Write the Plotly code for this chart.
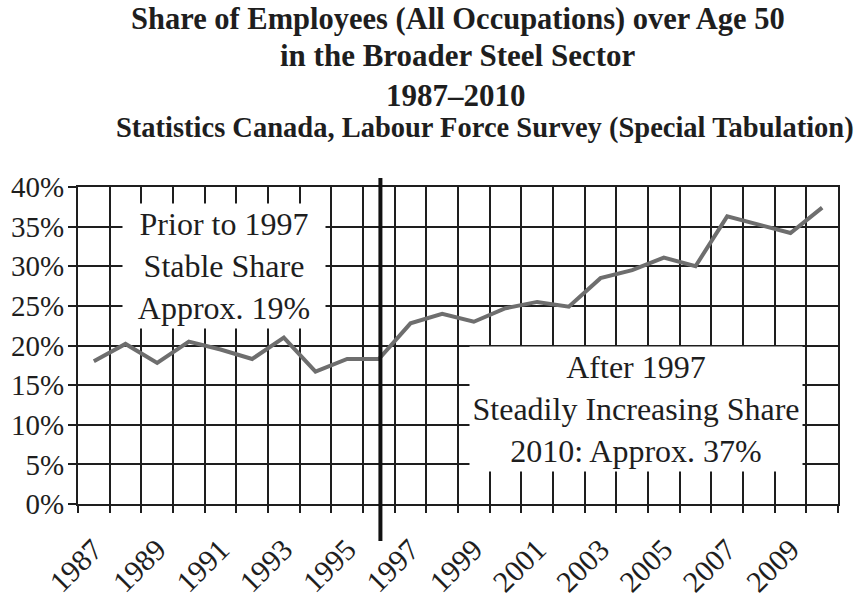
import plotly.graph_objects as go

years = list(range(1987, 2011))
share = [18.0, 20.2, 17.8, 20.5, 19.5, 18.3, 21.0, 16.7, 18.3, 18.3,
         22.8, 24.0, 23.0, 24.7, 25.5, 24.9, 28.5, 29.5, 31.1, 30.0,
         36.3, 35.2, 34.2, 37.4]
tick_years = list(range(1987, 2011, 2))
y_ticks = [0, 5, 10, 15, 20, 25, 30, 35, 40]
y_labels = [f"{v}%" for v in y_ticks]
title_lines = [
    "Share of Employees (All Occupations) over Age 50",
    "in the Broader Steel Sector",
    "1987\u20132010",
    "Statistics Canada, Labour Force Survey (Special Tabulation)",
]
note_before = "Prior to 1997<br>Stable Share<br>Approx. 19%"
note_after = "After 1997<br>Steadily Increasing Share<br>2010: Approx. 37%"

FONT = "Liberation Serif, serif"
INK = "#1e1e1e"

# plot-area geometry (pixels) used to place layout annotations
L, R, T, B = 78, 838, 187, 504
W, H = 856, 600


def py(y):
    return (B - y) / (B - T)


def px(x):
    return (x - L) / (R - L)


fig = go.Figure()
fig.add_trace(go.Scatter(
    x=years, y=share, mode="lines",
    line=dict(color="#6e6e6e", width=4),
    showlegend=False, hoverinfo="skip",
))

bounds = [y - 0.5 for y in years] + [years[-1] + 0.5]

fig.update_layout(
    width=W, height=H,
    margin=dict(l=L, r=W - R, t=T, b=H - B),
    paper_bgcolor="white", plot_bgcolor="white",
    font=dict(family=FONT, color=INK, size=29),
    xaxis=dict(
        range=[years[0] - 0.5, years[-1] + 0.5],
        tickmode="array", tickvals=tick_years,
        ticktext=[str(y) for y in tick_years],
        tickangle=-45, ticks="", showgrid=False,
        showline=True, linecolor=INK, linewidth=2, mirror=True,
        tickfont=dict(family=FONT, size=30, color=INK),
        ticklabelstandoff=14, automargin=False,
        minor=dict(tickmode="array", tickvals=bounds, showgrid=True,
                   gridcolor=INK, gridwidth=2, ticks="outside",
                   ticklen=7, tickwidth=2, tickcolor=INK),
        zeroline=False, fixedrange=True,
    ),
    yaxis=dict(
        range=[0, 40], tickmode="array", tickvals=y_ticks,
        ticktext=y_labels, showgrid=True, gridcolor=INK, gridwidth=2,
        ticks="outside", ticklen=8, tickwidth=2, tickcolor=INK,
        showline=True, linecolor=INK, linewidth=2, mirror=True,
        tickfont=dict(family=FONT, size=29, color=INK),
        ticklabelstandoff=-2,
        automargin=False, zeroline=False, fixedrange=True,
    ),
)

# title lines (x centre, y centre in pixels, font size)
title_pos = [(458, 19, 30.5), (458, 56, 31), (456, 95, 31), (485, 128, 28.5)]
for text, (xc, yc, fs) in zip(title_lines, title_pos):
    fig.add_annotation(
        text=f"<b>{text}</b>", xref="paper", yref="paper",
        x=px(xc), y=py(yc), xanchor="center", yanchor="middle",
        showarrow=False, font=dict(family=FONT, size=fs, color=INK),
    )

# boxed notes
fig.add_annotation(
    text=note_before, xref="paper", yref="paper",
    x=px(224), y=py(266), xanchor="center", yanchor="middle",
    width=200, height=122, bgcolor="white", showarrow=False,
    font=dict(family=FONT, size=32, color=INK), align="center",
)
fig.add_annotation(
    text=note_after, xref="paper", yref="paper",
    x=px(636), y=py(409), xanchor="center", yanchor="middle",
    width=330, height=122, bgcolor="white", showarrow=False,
    font=dict(family=FONT, size=32, color=INK), align="center",
)

# divider at 1996/1997
fig.add_shape(
    type="line", xref="x", yref="paper", x0=1996.05, x1=1996.05,
    y0=py(541), y1=py(178), line=dict(color="#111111", width=4),
)

fig.write_html("out.html")
